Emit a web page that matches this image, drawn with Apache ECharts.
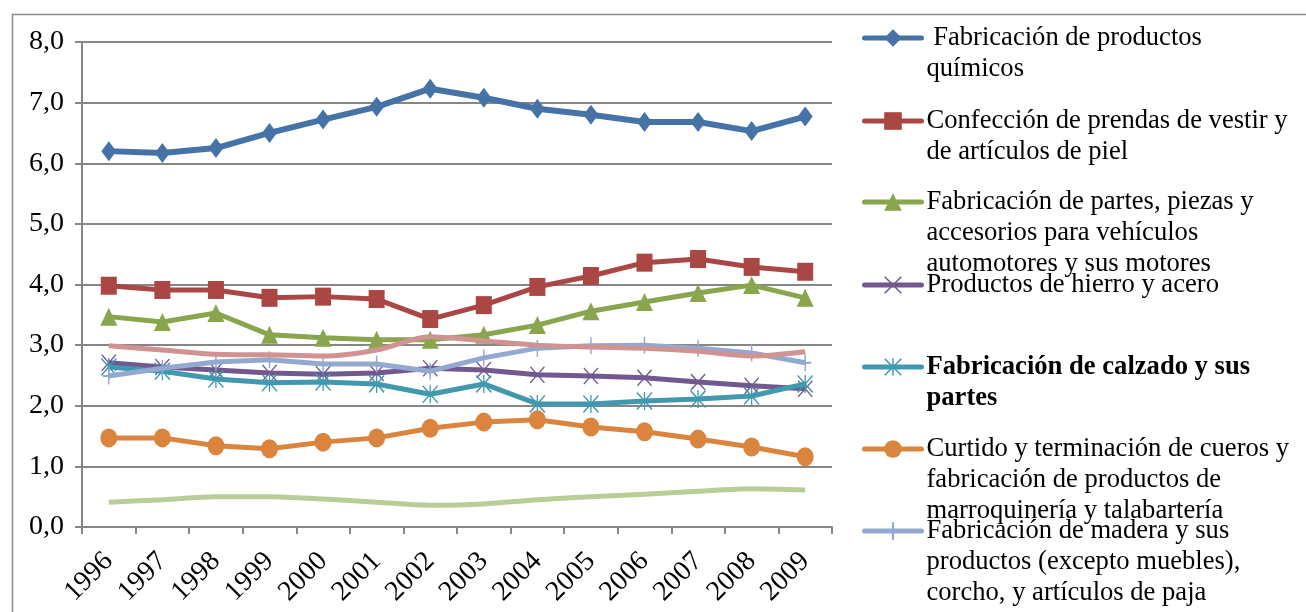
<!DOCTYPE html>
<html>
<head>
<meta charset="utf-8">
<script src="https://cdn.jsdelivr.net/npm/echarts@6/dist/echarts.min.js"></script>
<style>html,body{margin:0;padding:0;background:#fff}#c{width:1306px;height:612px}</style>
</head>
<body>
<div id="c"></div>
<script>
const years = ['1996','1997','1998','1999','2000','2001','2002','2003','2004','2005','2006','2007','2008','2009'];
const yTicks = [0, 8, 1];

const quimicos   = [6.20,6.17,6.25,6.50,6.72,6.93,7.23,7.08,6.90,6.80,6.68,6.68,6.53,6.77];
const prendas    = [3.98,3.91,3.91,3.78,3.80,3.76,3.43,3.66,3.96,4.14,4.36,4.42,4.29,4.21];
const autopartes = [3.47,3.38,3.53,3.17,3.12,3.09,3.09,3.17,3.33,3.56,3.71,3.86,3.99,3.78];
const hierro     = [2.71,2.64,2.59,2.54,2.52,2.54,2.62,2.59,2.51,2.49,2.46,2.39,2.33,2.28];
const calzado    = [2.64,2.57,2.44,2.38,2.39,2.36,2.19,2.36,2.03,2.03,2.08,2.11,2.16,2.36];
const cueros     = [1.47,1.47,1.34,1.29,1.40,1.47,1.63,1.73,1.77,1.65,1.57,1.45,1.32,1.16];
const madera     = [2.49,2.62,2.72,2.76,2.69,2.69,2.57,2.79,2.95,2.99,3.00,2.95,2.87,2.71];
const serie8     = [2.99,2.92,2.85,2.84,2.82,2.92,3.14,3.07,3.00,2.97,2.95,2.90,2.82,2.89];
const serie9     = [0.41,0.45,0.50,0.50,0.46,0.41,0.36,0.38,0.45,0.50,0.54,0.59,0.63,0.61];

const names = [
  'Fabricación de productos químicos',
  'Confección de prendas de vestir y de artículos de piel',
  'Fabricación de partes, piezas y accesorios para vehículos automotores y sus motores',
  'Productos de hierro y acero',
  'Fabricación de calzado y sus partes',
  'Curtido y terminación de cueros y fabricación de productos de marroquinería y talabartería',
  'Fabricación de madera y sus productos (excepto muebles), corcho, y artículos de paja',
  'Serie 8',
  'Serie 9'
];
const legendText = [
  ' Fabricación de productos\nquímicos',
  'Confección de prendas de vestir y\nde artículos de piel',
  'Fabricación de partes, piezas y\naccesorios para vehículos\nautomotores y sus motores',
  'Productos de hierro y acero',
  'Fabricación de calzado y sus\npartes',
  'Curtido y terminación de cueros y\nfabricación de productos de\nmarroquinería y talabartería',
  'Fabricación de madera y sus\nproductos (excepto muebles),\ncorcho, y artículos de paja'
];
const values = [quimicos, prendas, autopartes, hierro, calzado, cueros, madera, serie8, serie9];
const colors = ['#4572A7','#AA4643','#89A54E','#71588F','#4198AF','#DB843D','#93A9CF','#D19392','#B9CD96'];

const X_PATH = 'path://M0,6 L6,0 L100,94 L94,100 Z M94,0 L100,6 L6,100 L0,94 Z';
const AST_PATH = 'path://M0,6 L6,0 L100,94 L94,100 Z M94,0 L100,6 L6,100 L0,94 Z M46,0 L54,0 L54,100 L46,100 Z';
const PLUS_PATH = 'path://M44,0 L56,0 L56,100 L44,100 Z M0,44 L100,44 L100,56 L0,56 Z';
const symbols = ['diamond','rect','triangle',X_PATH,AST_PATH,'circle',PLUS_PATH,'none','none'];
const symbolSizes = [[15,20],[16,18],[17,18],[15,17],[16,18],[17,19],[12,17],0,0];
const smooths = [false,false,false,false,false,false,false,0.3,0.3];

const FONT = '"Liberation Serif","Times New Roman",serif';
const iconY = [38,121,202,285,367,449,531];
const LH = 31;

const legends = legendText.map((t, i) => {
  const n = t.split('\n').length;
  const padded = '\n'.repeat(n - 1) + t;
  return {
    orient: 'vertical',
    left: 862,
    top: iconY[i] - (2 * n - 1) * LH / 2,
    padding: 0,
    itemWidth: 57,
    itemHeight: 22,
    data: [names[i]],
    formatter: () => padded,
    selectedMode: false,
    lineStyle: { width: 5, cap: 'round' },
    textStyle: {
      fontFamily: FONT, fontSize: 26.6, color: '#000', lineHeight: LH,
      fontWeight: i === 4 ? 'bold' : 'normal'
    }
  };
});

const series = values.map((v, i) => ({
  name: names[i],
  type: 'line',
  data: v,
  symbol: symbols[i],
  symbolSize: symbolSizes[i],
  showSymbol: symbols[i] !== 'none',
  smooth: smooths[i],
  lineStyle: { color: colors[i], width: i === 0 ? 6 : 5 },
  itemStyle: { color: colors[i] },
  animation: false,
  z: 2 + i
}));

const chart = echarts.init(document.getElementById('c'), null, { renderer: 'canvas' });
chart.setOption({
  animation: false,
  backgroundColor: '#fff',
  graphic: [{
    type: 'rect', left: 10, top: 12, z: -1,
    shape: { width: 1400, height: 700 },
    style: { fill: 'none', stroke: '#8c8c8c', lineWidth: 1.5 }
  }],
  grid: { left: 82, right: 474, top: 42, bottom: 85, containLabel: false },
  legend: legends,
  xAxis: {
    type: 'category',
    data: years,
    boundaryGap: true,
    axisLine: { show: true, lineStyle: { color: '#868686', width: 2 } },
    axisTick: { show: true, interval: 0, length: 7, lineStyle: { color: '#868686', width: 2 } },
    axisLabel: { interval: 0, rotate: 45, margin: 30, fontFamily: FONT, fontSize: 28, color: '#000' },
    splitLine: { show: false }
  },
  yAxis: {
    type: 'value',
    min: yTicks[0], max: yTicks[1], interval: yTicks[2],
    axisLine: { show: true, lineStyle: { color: '#868686', width: 2 } },
    axisTick: { show: true, length: 7, lineStyle: { color: '#868686', width: 2 } },
    axisLabel: { margin: 18, fontFamily: FONT, fontSize: 28, color: '#000',
      formatter: v => v.toFixed(1).replace('.', ',') },
    splitLine: { show: true, lineStyle: { color: '#868686', width: 2 } }
  },
  series: series
});
</script>
</body>
</html>
